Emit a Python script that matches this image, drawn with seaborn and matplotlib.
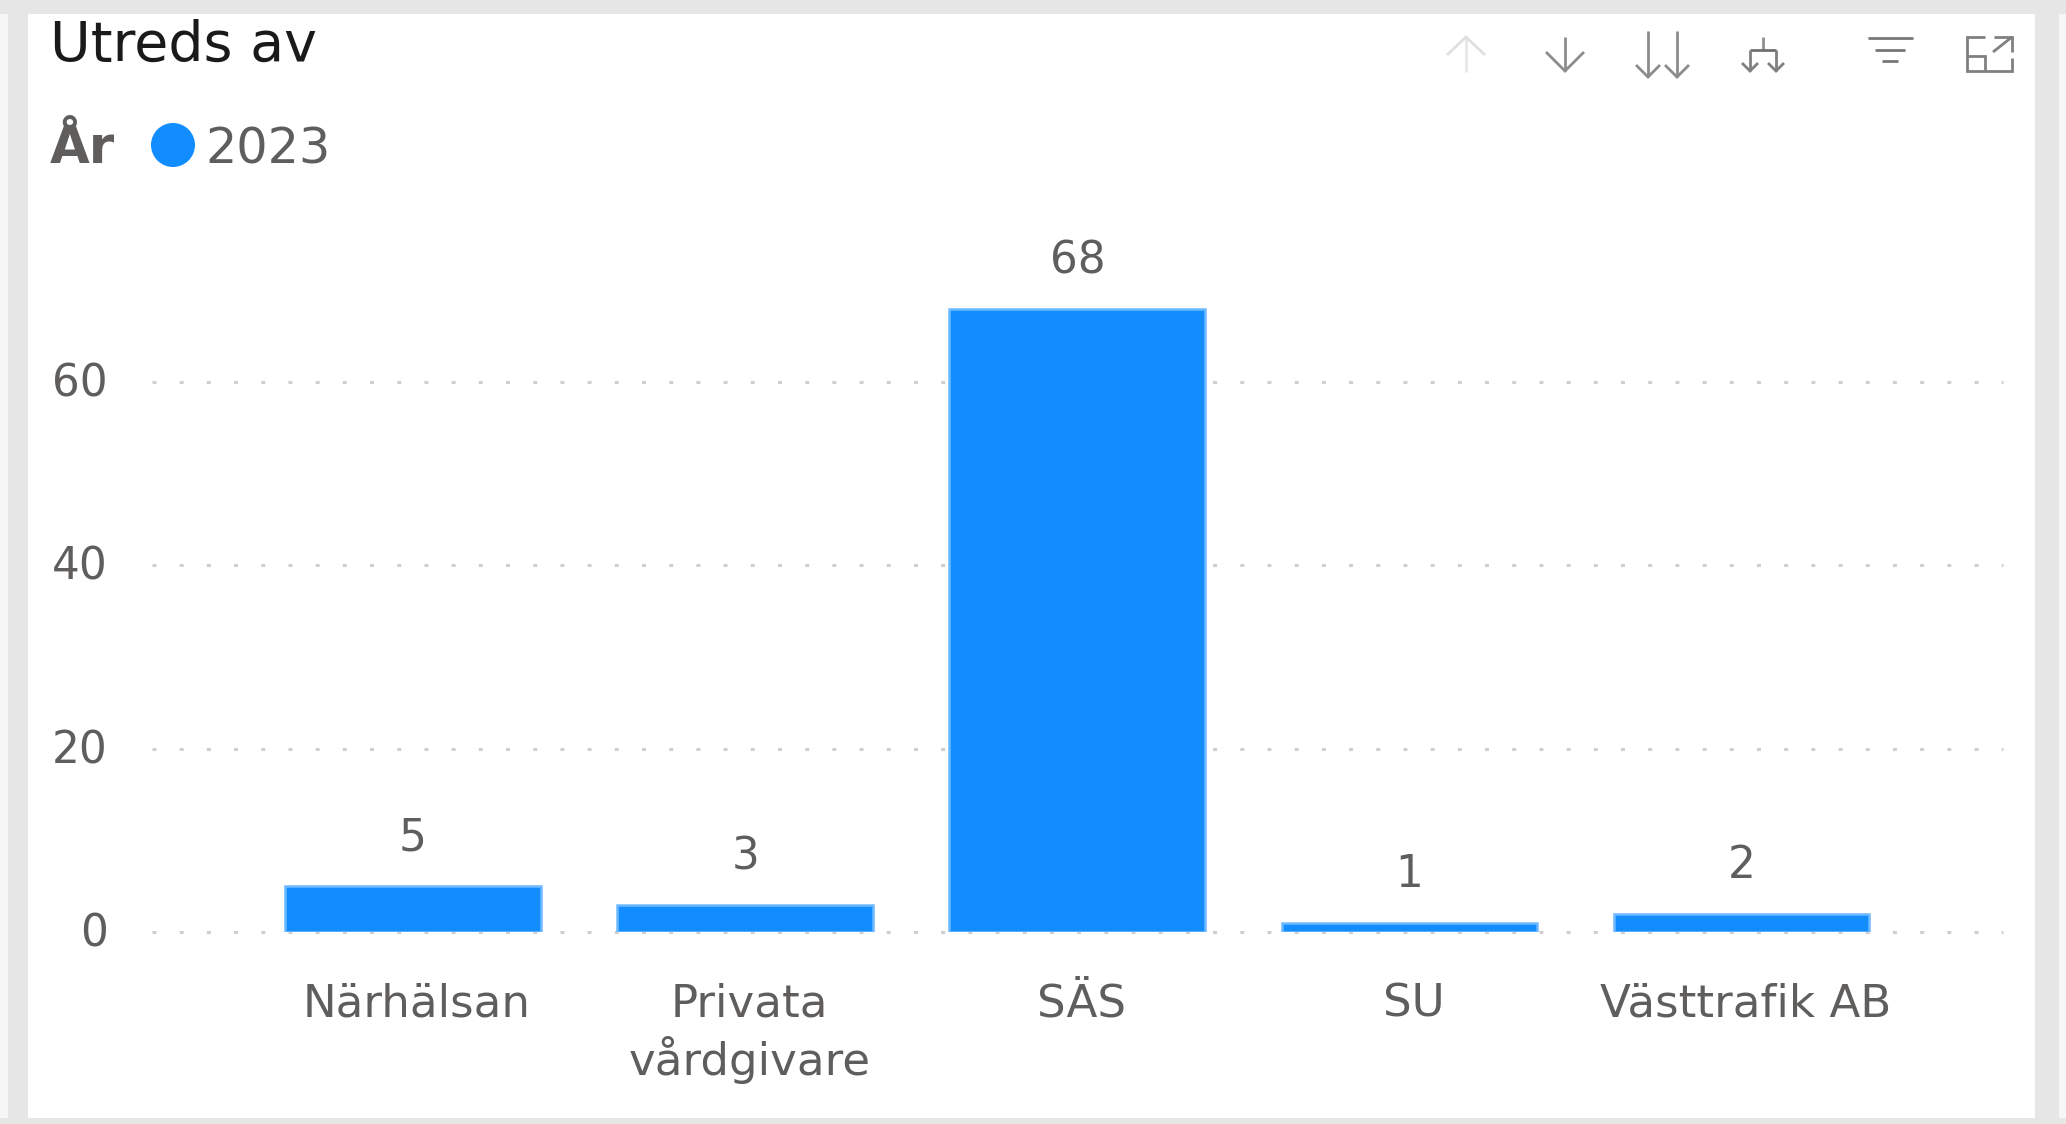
import matplotlib
matplotlib.use("Agg")
import matplotlib.pyplot as plt
from matplotlib.patches import Rectangle, Circle
from matplotlib.transforms import ScaledTranslation
import pandas as pd
import seaborn as sns

categories = ["Närhälsan", "Privata\nvårdgivare", "SÄS", "SU", "Västtrafik AB"]
values = [5, 3, 68, 1, 2]
y_ticks = [0, 20, 40, 60]
legend_title = "År"
legend_year = "2023"
chart_title = "Utreds av"

W, H = 2066, 1124
BLUE = "#118DFF"
TEXT = "#605E5C"

sns.set_theme(style="white")
plt.rcParams["font.family"] = ["DejaVu Sans"]

fig = plt.figure(figsize=(W / 100, H / 100), dpi=100, facecolor="#E6E6E6")

# Pixel-addressed layer for the report frame, header, legend and toolbar icons
ui = fig.add_axes([0, 0, 1, 1], zorder=0)
ui.set_xlim(0, W)
ui.set_ylim(H, 0)
ui.axis("off")
ui.add_patch(Rectangle((0, 14), 8, H - 20, color="#F7F7F7", lw=0))
ui.add_patch(Rectangle((28, 14), 2007, 1104, color="white", lw=0))
ui.add_patch(Rectangle((2059, 14), 7, H - 20, color="#F7F7F7", lw=0))

ui.text(50, 61, chart_title, fontsize=40, color="#1A1A1A", va="baseline")
ui.text(50, 163, legend_title, fontsize=37, fontweight="bold", color=TEXT, va="baseline")
ui.add_patch(Circle((173, 145), 22, color=BLUE, lw=0))
ui.text(205, 163, legend_year, fontsize=35.5, color=TEXT, va="baseline")


def stroke(xs, ys, color, lw=2.0):
    ui.plot(xs, ys, color=color, lw=lw, solid_capstyle="butt", solid_joinstyle="miter")


def arrow_down(x, y0, y1, half, color):
    stroke([x, x], [y0, y1], color)
    stroke([x - half, x, x + half], [y1 - half, y1, y1 - half], color)


# Sort and drill toolbar
stroke([1466, 1466], [37, 72], "#E8E8E8")
stroke([1447, 1466, 1485], [55, 37, 55], "#E0E0E0")
arrow_down(1565, 37, 71, 19, "#8C8C8C")
arrow_down(1648, 31, 77, 12, "#8C8C8C")
arrow_down(1677, 31, 77, 12, "#8C8C8C")
stroke([1763, 1763], [37, 50], "#909090")
stroke([1750, 1776], [50, 50], "#707070")
arrow_down(1750, 50, 71, 8, "#808080")
arrow_down(1776, 50, 71, 8, "#808080")
stroke([1868, 1913], [38, 38], "#777777")
stroke([1875, 1905], [50, 50], "#777777")
stroke([1882, 1898], [61, 61], "#777777")
stroke([1985, 1967, 1967, 2012, 2012], [37, 37, 71, 71, 58], "#808080")
stroke([1967, 1985, 1985], [56, 56, 71], "#808080")
stroke([1993, 2012], [52, 37], "#808080")
stroke([1994, 2012, 2012], [37, 37, 52], "#808080")

# Column chart
ax_left, ax_right, ax_top, ax_bottom = 152, 2003, 240, 932
ax = fig.add_axes(
    [ax_left / W, (H - ax_bottom) / H, (ax_right - ax_left) / W, (ax_bottom - ax_top) / H],
    zorder=1,
)
ax.patch.set_alpha(0)

data = pd.DataFrame({"Utreds av": categories, "Antal": values})
sns.barplot(
    data=data, x="Utreds av", y="Antal", order=categories, color=BLUE, saturation=1,
    width=0.77, edgecolor="#6DB9FF", linewidth=1.8, ax=ax, zorder=3,
)

ax.set_xlim(-0.786, 4.787)
ax.set_ylim(0, 75.5)
ax.set_xlabel("")
ax.set_ylabel("")
ax.set_yticks(y_ticks)
sns.despine(ax=ax, left=True, bottom=True)
ax.tick_params(axis="y", length=0, pad=32, labelsize=31.5, labelcolor=TEXT)
ax.tick_params(axis="x", length=0, pad=36.5, labelsize=32.5, labelcolor=TEXT)
ax.yaxis.grid(True, color="#CFCFCF", lw=2.2, linestyle=(0, (1.3, 7.6)), zorder=1)
ax.xaxis.grid(False)
ax.set_axisbelow(True)
for line in ax.get_ygridlines():
    line.set_clip_on(False)

nudge = ScaledTranslation(4 / 100, 0, fig.dpi_scale_trans)
for label in ax.get_xticklabels():
    label.set_transform(label.get_transform() + nudge)
    label.set_linespacing(1.27)

lift = ScaledTranslation(0, 2.5 / 100, fig.dpi_scale_trans)
for label in ax.get_yticklabels():
    label.set_transform(label.get_transform() + lift)

ax.bar_label(ax.containers[0], labels=[str(v) for v in values], padding=19, fontsize=31.5, color=TEXT)

fig.savefig("out.png", dpi=100, facecolor=fig.get_facecolor())
